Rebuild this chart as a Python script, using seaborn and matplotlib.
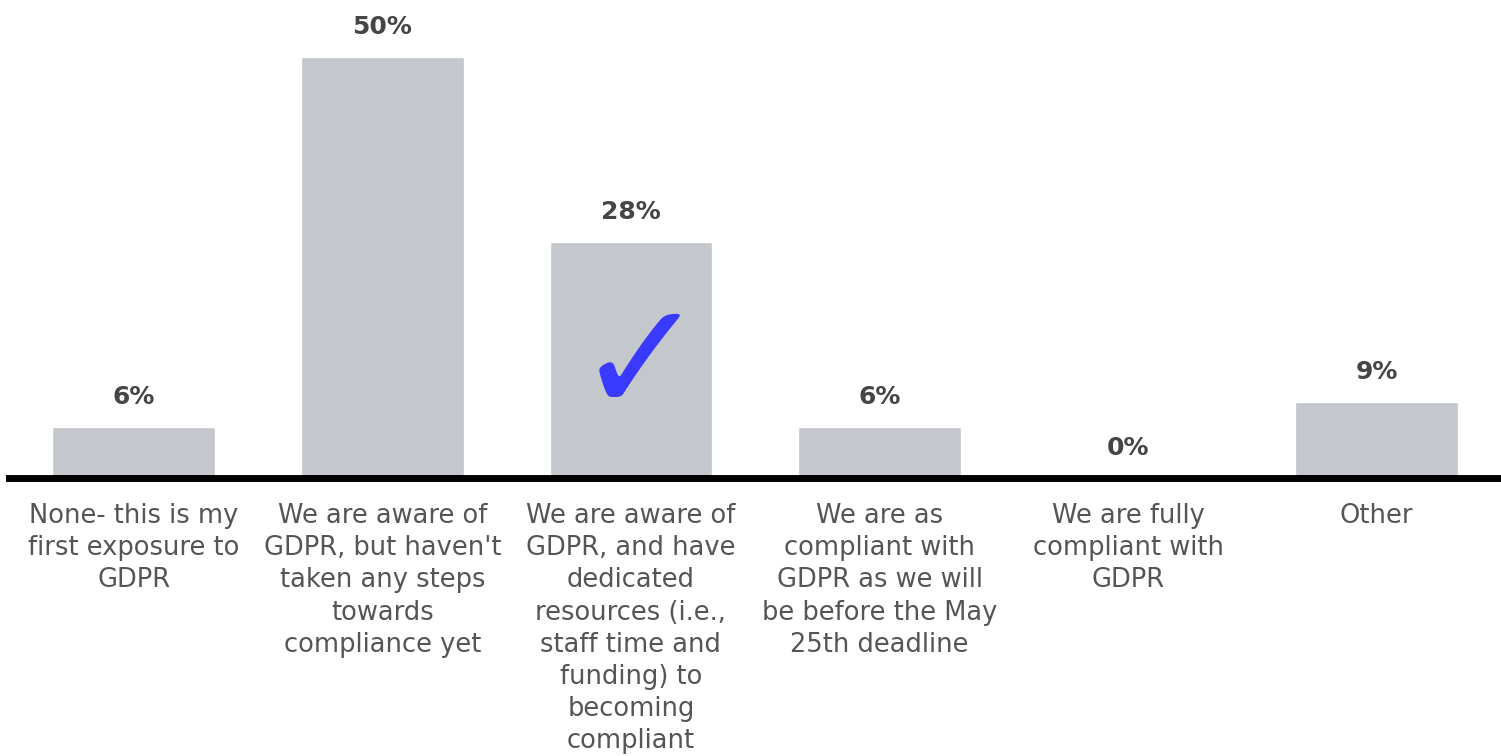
import matplotlib
matplotlib.use("Agg")
import matplotlib.pyplot as plt
import seaborn as sns
import pandas as pd

categories = [
    "None- this is my\nfirst exposure to\nGDPR",
    "We are aware of\nGDPR, but haven't\ntaken any steps\ntowards\ncompliance yet",
    "We are aware of\nGDPR, and have\ndedicated\nresources (i.e.,\nstaff time and\nfunding) to\nbecoming\ncompliant",
    "We are as\ncompliant with\nGDPR as we will\nbe before the May\n25th deadline",
    "We are fully\ncompliant with\nGDPR",
    "Other",
]
values = [6, 50, 28, 6, 0, 9]
value_labels = ["6%", "50%", "28%", "6%", "0%", "9%"]
checked_index = 2

sns.set_theme(style="white")
plt.rcParams['font.family'] = ['DejaVu Sans']

df = pd.DataFrame({"cat": categories, "val": values})

fig = plt.figure(figsize=(15.01, 7.56), dpi=100)
ax = fig.add_axes([0.0063, 0.3677, 0.9937, 0.6323])

sns.barplot(data=df, x="cat", y="val", color="#c4c7cb", saturation=1,
            width=0.655, ax=ax)

ax.set_xlim(-0.5, 5.5)
ax.set_ylim(0, 56.77)

for c in ax.containers:
    ax.bar_label(c, labels=value_labels, padding=13, fontsize=18,
                 fontweight="bold", color="#454545")

ax.text(checked_index + 0.04, 12.9, "✓", ha="center", va="center",
        fontsize=112, color="#3a3aff", fontweight="bold")

for s in ["top", "left", "right"]:
    ax.spines[s].set_visible(False)
ax.spines["bottom"].set_linewidth(5)
ax.spines["bottom"].set_color("black")
ax.set_yticks([])
ax.set_xlabel("")
ax.set_ylabel("")
ax.tick_params(axis="x", length=0, pad=18, labelsize=18.5, labelcolor="#555555")
for t in ax.get_xticklabels():
    t.set_linespacing(1.31)
    t.set_multialignment("center")

fig.savefig("out.png", dpi=100)
